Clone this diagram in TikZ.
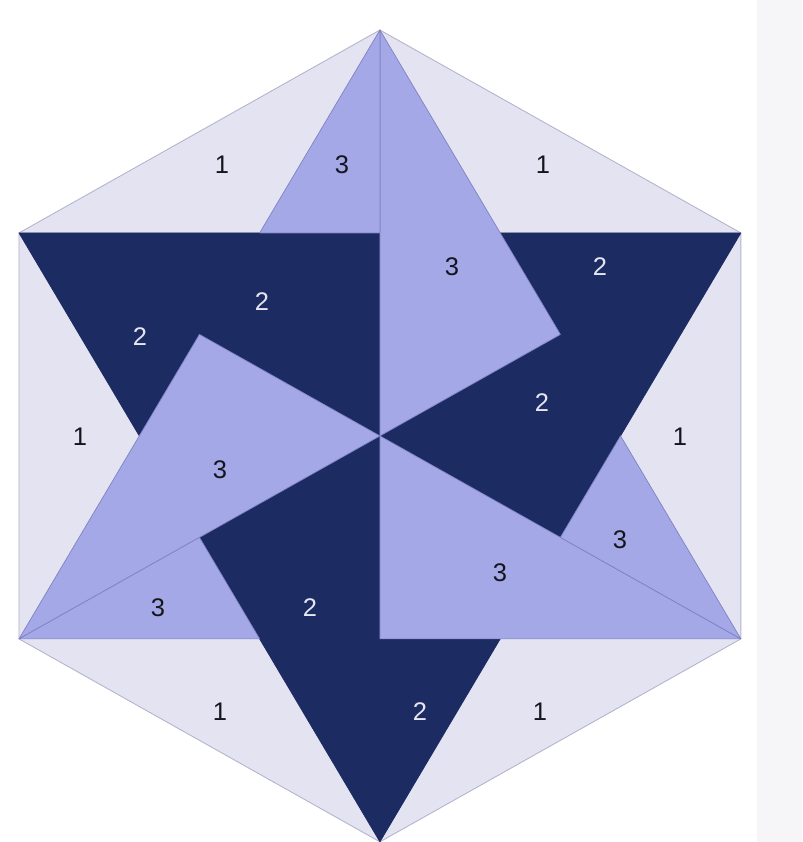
\documentclass[tikz,border=0pt]{standalone}
\usepackage{fontspec}
\setmainfont{Liberation Sans}
\usepackage{tikz}
\usetikzlibrary{calc}
\definecolor{sheet}{HTML}{F6F6F9}
\definecolor{pale}{HTML}{E4E3F1}
\definecolor{lilac}{HTML}{A5A8E7}
\definecolor{navy}{HTML}{1C2B62}
\definecolor{seam}{HTML}{7F82C4}
\definecolor{rim}{HTML}{B4B4CC}
\definecolor{inkdark}{HTML}{15151E}
\definecolor{inklight}{HTML}{E6E6F2}

\begin{document}
\begin{tikzpicture}[x=0.02cm, y=-0.02cm,
    every node/.style={font=\fontsize{14.5}{16}\selectfont, inner sep=0pt},
    patch1/.style={fill=pale, draw=rim, line width=0.5pt, line join=round},
    patch2/.style={fill=navy, draw=navy, line width=0.4pt, line join=round},
    patch3/.style={fill=lilac, draw=seam, line width=0.4pt, line join=round},
    num1/.style={text=inkdark},
    num2/.style={text=inklight},
    num3/.style={text=inkdark}
  ]
  \useasboundingbox (0,0) rectangle (802,842);
  \fill[white] (0,0) rectangle (802,842);
  \fill[sheet] (757,0) rectangle (802,842);

  \begin{scope}[shift={(7.6cm,-8.72cm)}, x={(8.337cm,0cm)}, y={(0cm,8.12cm)}]
    \coordinate (c) at (0,0);
    \coordinate (tipN) at (90:1);
    \coordinate (tipNE) at (30:1);
    \coordinate (tipSE) at (-30:1);
    \coordinate (tipS) at (-90:1);
    \coordinate (tipSW) at (-150:1);
    \coordinate (tipNW) at (150:1);
    \coordinate (midN) at (90:0.5);
    \coordinate (midNE) at (30:0.5);
    \coordinate (midSE) at (-30:0.5);
    \coordinate (midS) at (-90:0.5);
    \coordinate (midSW) at (-150:0.5);
    \coordinate (midNW) at (150:0.5);
    \coordinate (inE) at (0:0.57735);
    \coordinate (inNE) at (60:0.57735);
    \coordinate (inNW) at (120:0.57735);
    \coordinate (inW) at (180:0.57735);
    \coordinate (inSW) at (240:0.57735);
    \coordinate (inSE) at (300:0.57735);
  \end{scope}

  \path[patch1] (tipN) -- (tipNW) -- (tipSW) -- (tipS) -- (tipSE) -- (tipNE) -- cycle;

  \path[patch2] (tipNW) -- (midN) -- (c) -- (midNW) -- (inW) -- cycle;
  \path[patch2] (tipS) -- (midSW) -- (c) -- (midS) -- (inSE) -- cycle;
  \path[patch2] (tipNE) -- (midSE) -- (c) -- (midNE) -- (inNE) -- cycle;

  \path[patch3] (c) -- (midNW) -- (tipSW) -- cycle;
  \path[patch3] (c) -- (midS) -- (tipSE) -- cycle;
  \path[patch3] (c) -- (midNE) -- (tipN) -- cycle;
  \path[patch3] (tipSW) -- (midSW) -- (inSW) -- cycle;
  \path[patch3] (tipSE) -- (midSE) -- (inE) -- cycle;
  \path[patch3] (tipN) -- (midN) -- (inNW) -- cycle;

  \node[num1] (one1) at (222,165) {1};
  \node[num1] (one2) at (543,165) {1};
  \node[num1] (one3) at (80,437) {1};
  \node[num1] (one4) at (680,437) {1};
  \node[num1] (one5) at (220,712) {1};
  \node[num1] (one6) at (540,712) {1};

  \node[num2] (two1) at (140,337) {2};
  \node[num2] (two2) at (262,302) {2};
  \node[num2] (two3) at (600,267) {2};
  \node[num2] (two4) at (542,403) {2};
  \node[num2] (two5) at (310,608) {2};
  \node[num2] (two6) at (420,712) {2};

  \node[num3] (three1) at (342,165) {3};
  \node[num3] (three2) at (452,267) {3};
  \node[num3] (three3) at (220,470) {3};
  \node[num3] (three4) at (158,608) {3};
  \node[num3] (three5) at (500,573) {3};
  \node[num3] (three6) at (620,540) {3};
\end{tikzpicture}
\end{document}
